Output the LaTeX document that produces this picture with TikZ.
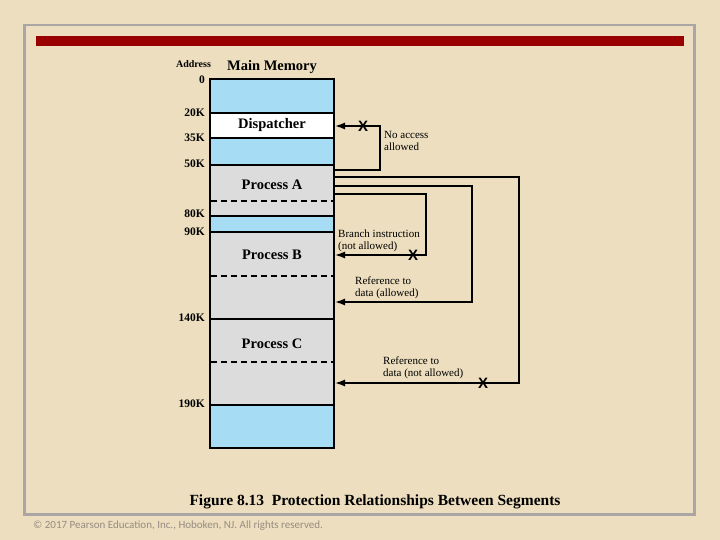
\documentclass[tikz,border=0pt]{standalone}
\usepackage{fontspec}
\setmainfont{Liberation Serif}
\newfontfamily\notefont{Carlito}
\newfontfamily\markfont{Liberation Sans}
\usetikzlibrary{arrows.meta}
\definecolor{paper}{RGB}{236,222,190}
\definecolor{segblue}{RGB}{166,221,244}
\definecolor{seggray}{RGB}{220,220,220}
\definecolor{barred}{RGB}{153,0,0}
\definecolor{framegray}{RGB}{170,166,166}
\definecolor{notegray}{RGB}{150,140,130}

\begin{document}
\begin{tikzpicture}[x=1pt,y=-1pt,
		seg/.style={draw,line width=1.8pt,minimum width=124pt,anchor=north west,inner sep=0pt,outer sep=0pt},
		big/.style={font=\fontsize{14.5}{16}\selectfont\bfseries},
		addrlbl/.style={anchor=east,font=\fontsize{11.5}{13}\selectfont\bfseries,inner sep=0pt},
		note/.style={anchor=west,align=left,inner sep=0pt,font=\fontsize{11}{11.5}\selectfont},
		link/.style={line width=1.4pt,-{Latex[length=10pt,width=7pt]}},
		xmark/.style={font=\markfont\fontsize{15}{15}\selectfont\bfseries,inner sep=0pt}]
		% page
		\fill[paper] (0,0) rectangle (720,540);
		\useasboundingbox (0,0) rectangle (720,540);
		\draw[framegray,line width=2.5pt] (24.5,25) rectangle (694.5,514.5);
		\fill[barred] (36,36) rectangle (684,46);
		% memory segments
		\node[seg,fill=segblue,minimum height=34pt] (free0) at (210,79) {};
		\node[seg,fill=white,minimum height=25pt,big] (disp) at (210,113) {Dispatcher};
		\node[seg,fill=segblue,minimum height=27pt] (free1) at (210,138) {};
		\node[seg,fill=seggray,minimum height=51pt] (segA) at (210,165) {};
		\node[seg,fill=segblue,minimum height=16pt] (free2) at (210,216) {};
		\node[seg,fill=seggray,minimum height=87pt] (segB) at (210,232) {};
		\node[seg,fill=seggray,minimum height=86pt] (segC) at (210,319) {};
		\node[seg,fill=segblue,minimum height=43pt] (free3) at (210,405) {};
		\foreach \y in {201,276,362}
			\draw[line width=1.4pt,dash pattern=on 6pt off 4pt] (211,\y) -- (333,\y);
		\node[big] (lblA) at (272,185) {Process A};
		\node[big] (lblB) at (272,255) {Process B};
		\node[big] (lblC) at (272,344) {Process C};
		\node[big] (title) at (272,67) {Main Memory};
		\node[font=\fontsize{10}{11}\selectfont\bfseries] (addr) at (193.5,64) {Address};
		% addresses
		\foreach \a/\y in {0/80,20K/113,35K/138,50K/164,80K/214,90K/232,140K/318,190K/404}
			\node[addrlbl] (addr\a) at (205,\y) {\a};
		% references
		\coordinate (fromA1) at (335,170);
		\coordinate (toDisp) at (335,126);
		\coordinate (fromA2) at (335,177);
		\coordinate (toC) at (335,383);
		\coordinate (fromA3) at (335,186);
		\coordinate (toBdata) at (335,302);
		\coordinate (fromA4) at (335,194);
		\coordinate (toBcode) at (335,255);
		\draw[link] (fromA1) -- (380,170) -- (380,126) -- (toDisp);
		\draw[link] (fromA2) -- (519,177) -- (519,383) -- (toC);
		\draw[link] (fromA3) -- (472,186) -- (472,302) -- (toBdata);
		\draw[link] (fromA4) -- (426,194) -- (426,255) -- (toBcode);
		\node[xmark] (x1) at (363,126) {X};
		\node[xmark] (x2) at (413,255) {X};
		\node[xmark] (x3) at (483,383) {X};
		\node[note] (n1) at (384,141) {No access\\allowed};
		\node[note] (n2) at (338,241) {Branch instruction\\(not allowed)};
		\node[note] (n3) at (355,288) {Reference to\\data (allowed)};
		\node[note] (n4) at (383,368) {Reference to\\data (not allowed)};
		% caption
		\node[anchor=base,font=\fontsize{15.5}{17}\selectfont\bfseries] (cap) at (375,505) {Figure 8.13\ \ Protection Relationships Between Segments};
		\node[anchor=base west,inner sep=0pt,text=notegray,font=\notefont\fontsize{11}{12}\selectfont] (copy) at (33,528) {© 2017 Pearson Education, Inc., Hoboken, NJ. All rights reserved.};
	\end{tikzpicture}
\end{document}
